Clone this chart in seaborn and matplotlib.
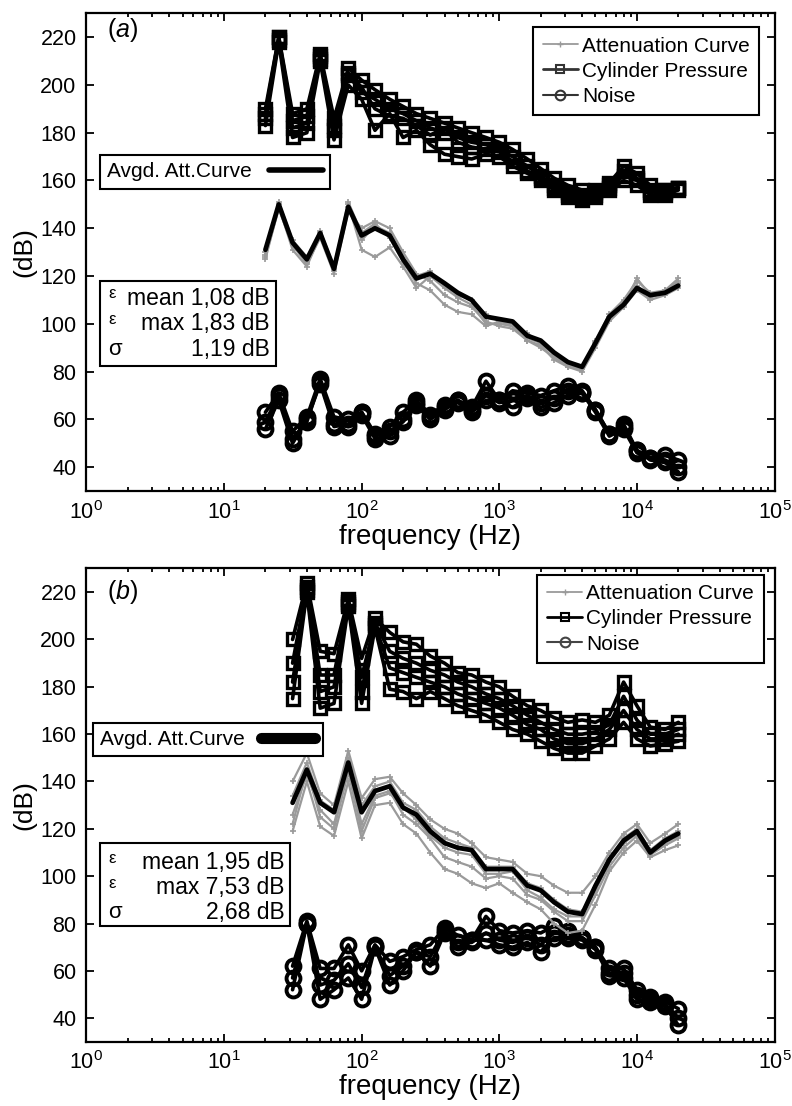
import numpy as np
import pandas as pd
import seaborn as sns
from matplotlib import pyplot as plt
from matplotlib.lines import Line2D
from matplotlib.patches import Rectangle
from matplotlib.ticker import LogLocator, NullFormatter

# third-octave band centres (Hz)
freq_a = [20, 25, 31.5, 40, 50, 63, 80, 100, 125, 160, 200, 250, 315, 400, 500, 630,
          800, 1000, 1250, 1600, 2000, 2500, 3150, 4000, 5000, 6300, 8000, 10000,
          12500, 16000, 20000]
freq_b = freq_a[2:]

# panel (a)
avg_a = [131, 150, 134, 127, 138, 123, 149, 137, 140, 137, 127, 119, 121, 117, 113, 110,
         103, 102, 101, 95, 93, 88, 84, 82, 92, 103, 108, 115, 112, 113, 116]
att_a = [
    [128, 148, 133, 125, 136, 121, 147, 140, 143, 140, 130, 121, 118, 112, 109, 107,
     101, 99, 98, 93, 90, 86, 82, 81, 93, 104, 110, 118, 113, 114, 118],
    [127, 149, 131, 124, 137, 122, 150, 131, 128, 132, 124, 115, 120, 115, 111, 108,
     100, 100, 99, 93, 91, 85, 82, 80, 90, 101, 107, 114, 110, 112, 115],
    [129, 151, 135, 128, 139, 124, 151, 138, 142, 136, 126, 117, 114, 108, 105, 104,
     99, 101, 100, 96, 92, 87, 83, 81, 91, 102, 109, 116, 111, 113, 117],
    [130, 150, 134, 126, 138, 123, 149, 135, 141, 138, 128, 120, 122, 116, 112, 110,
     104, 101, 99, 94, 92, 87, 83, 82, 92, 103, 108, 119, 112, 114, 119],
]
cyl_a = [
    [190, 220, 188, 190, 213, 186, 207, 202, 198, 194, 191, 188, 186, 184, 182, 180,
     178, 176, 173, 169, 165, 161, 158, 156, 156, 159, 166, 163, 158, 156, 157],
    [186, 219, 182, 184, 211, 181, 204, 197, 194, 190, 188, 185, 182, 180, 178, 176,
     175, 173, 170, 166, 162, 158, 155, 154, 155, 158, 164, 161, 156, 155, 157],
    [183, 218, 178, 180, 210, 177, 200, 194, 181, 188, 178, 181, 175, 171, 170, 169,
     171, 170, 166, 163, 160, 156, 153, 152, 153, 156, 160, 158, 154, 154, 156],
    [188, 220, 185, 187, 212, 183, 205, 199, 190, 187, 186, 183, 179, 182, 176, 174,
     173, 172, 168, 164, 161, 157, 154, 153, 154, 157, 162, 160, 155, 156, 157],
]
noise_a = [
    [63, 71, 55, 61, 77, 61, 60, 63, 54, 57, 63, 68, 62, 66, 68, 65,
     76, 68, 72, 71, 70, 72, 74, 72, 64, 54, 58, 47, 44, 45, 43],
    [59, 70, 52, 59, 76, 58, 57, 62, 52, 53, 60, 67, 61, 65, 67, 64,
     70, 67, 68, 70, 67, 69, 72, 71, 63, 53, 56, 46, 44, 43, 40],
    [56, 68, 50, 60, 75, 57, 58, 63, 53, 55, 59, 66, 60, 64, 68, 63,
     68, 68, 65, 69, 65, 67, 70, 71, 64, 54, 57, 47, 43, 42, 38],
]
stats_a = ["mean 1,08 dB", "max 1,83 dB", "1,19 dB"]

# panel (b)
avg_b = [131, 145, 131, 127, 148, 127, 136, 138, 129, 126, 119, 114, 112, 111, 103,
         103, 103, 96, 94, 89, 85, 84, 96, 107, 115, 119, 110, 115, 118]
att_b = [
    [140, 152, 135, 130, 153, 133, 141, 142, 135, 130, 124, 120, 118, 114, 108,
     107, 106, 101, 100, 96, 93, 93, 100, 110, 118, 122, 114, 118, 122],
    [119, 140, 121, 117, 140, 116, 130, 131, 122, 118, 110, 103, 101, 97, 95,
     97, 93, 89, 86, 80, 76, 77, 88, 102, 110, 115, 108, 111, 113],
    [126, 143, 128, 122, 146, 122, 134, 136, 126, 122, 116, 108, 106, 104, 99,
     100, 99, 92, 90, 85, 81, 81, 92, 104, 112, 117, 109, 113, 116],
    [134, 148, 132, 128, 150, 130, 138, 140, 131, 128, 121, 116, 114, 112, 104,
     104, 104, 97, 95, 90, 86, 85, 95, 107, 116, 120, 111, 116, 119],
    [122, 145, 125, 120, 144, 119, 133, 135, 129, 124, 117, 112, 110, 109, 101,
     101, 102, 94, 91, 86, 83, 83, 94, 106, 114, 118, 110, 114, 117],
]
cyl_b = [
    [200, 224, 195, 194, 217, 192, 209, 203, 199, 198, 193, 190, 186, 185, 182,
     180, 176, 172, 170, 167, 165, 166, 165, 168, 182, 172, 163, 162, 165],
    [190, 222, 185, 185, 216, 184, 207, 195, 192, 190, 187, 185, 182, 180, 177,
     175, 172, 168, 165, 162, 160, 160, 161, 164, 176, 166, 160, 160, 162],
    [182, 221, 178, 180, 215, 178, 206, 188, 186, 184, 182, 180, 177, 175, 173,
     171, 168, 164, 162, 158, 156, 156, 158, 162, 170, 162, 158, 158, 160],
    [175, 220, 171, 173, 214, 173, 205, 179, 178, 175, 178, 175, 172, 170, 168,
     165, 162, 160, 157, 154, 152, 152, 155, 158, 165, 158, 155, 156, 157],
]
noise_b = [
    [62, 81, 61, 61, 71, 60, 71, 64, 66, 69, 71, 78, 75, 73, 83,
     77, 76, 77, 76, 79, 77, 74, 70, 61, 61, 52, 49, 47, 44],
    [57, 80, 54, 56, 63, 53, 70, 58, 62, 68, 66, 77, 72, 72, 76,
     73, 72, 74, 71, 76, 75, 74, 70, 59, 59, 50, 48, 46, 40],
    [52, 80, 48, 52, 57, 48, 70, 54, 60, 68, 62, 76, 70, 73, 73,
     71, 70, 72, 68, 74, 74, 73, 69, 58, 57, 48, 47, 45, 37],
]
stats_b = ["mean 1,95 dB", "max 7,53 dB", "2,68 dB"]

GRAY = "#9a9a9a"


def to_long(freqs, curves):
    rows = []
    for run, vals in enumerate(curves):
        for f, v in zip(freqs, vals):
            rows.append({"freq": f, "db": v, "run": run})
    return pd.DataFrame(rows)


def draw_panel(ax, freqs, att, cyl, noise, avg, tag, stats, cfg):
    ax.set_xscale("log")
    line_col = cfg["line_color"]

    sns.lineplot(data=to_long(freqs, cyl), x="freq", y="db", units="run",
                 estimator=None, sort=False, ax=ax, color="black", linewidth=2.6,
                 marker="s", markersize=8.5, markerfacecolor="none",
                 markeredgecolor="black", markeredgewidth=2.4, legend=False)
    sns.lineplot(data=to_long(freqs, noise), x="freq", y="db", units="run",
                 estimator=None, sort=False, ax=ax, color="black", linewidth=2.6,
                 marker="o", markersize=10, markerfacecolor="none",
                 markeredgecolor="black", markeredgewidth=2.8, legend=False)
    sns.lineplot(data=to_long(freqs, att), x="freq", y="db", units="run",
                 estimator=None, sort=False, ax=ax, color=GRAY, linewidth=1.6,
                 marker="+", markersize=4, markeredgecolor=GRAY,
                 markeredgewidth=1.2, legend=False)
    sns.lineplot(x=freqs, y=avg, ax=ax, color="black", linewidth=3.4,
                 estimator=None, sort=False, legend=False)

    ax.set_xlim(1, 1e5)
    ax.set_ylim(30, 230)
    ax.set_yticks(np.arange(40, 221, 20))
    ax.xaxis.set_major_locator(LogLocator(base=10, numticks=10))
    ax.xaxis.set_minor_locator(LogLocator(base=10, subs=np.arange(2, 10), numticks=20))
    ax.xaxis.set_minor_formatter(NullFormatter())
    ax.tick_params(which="both", direction="in", top=True, right=True,
                   width=1.3, labelsize=15.5, colors="black")
    ax.tick_params(which="major", length=6, pad=7)
    ax.tick_params(which="minor", length=3)
    for s in ax.spines.values():
        s.set_linewidth(1.6)
        s.set_color("black")
    ax.set_xlabel("frequency (Hz)", fontsize=20, labelpad=0)
    ax.set_ylabel("(dB)", fontsize=19, labelpad=3)

    ax.text(0.03, cfg["tag_y"], "(" + r"$\mathit{" + tag + "}$" + ")",
            transform=ax.transAxes, fontsize=18, va="center", ha="left")

    handles = [
        Line2D([], [], color=GRAY, linewidth=1.3, marker="+", markersize=4),
        Line2D([], [], color=line_col, linewidth=2, marker="s", markersize=6,
               markerfacecolor="none", markeredgewidth=1.5),
        Line2D([], [], color=line_col if tag == "a" else "#444444", linewidth=1.5,
               marker="o", markersize=7, markerfacecolor="none", markeredgewidth=1.5),
    ]
    leg = ax.legend(handles, ["Attenuation Curve", "Cylinder Pressure", "Noise"],
                    loc="upper right", bbox_to_anchor=cfg["leg_anchor"],
                    frameon=True, fancybox=False, edgecolor="black", framealpha=1,
                    fontsize=15, handlelength=1.7, handletextpad=0.2,
                    borderpad=0.45, labelspacing=0.3, borderaxespad=0)
    leg.get_frame().set_linewidth(1.5)
    ax.add_artist(leg)

    avg_leg = ax.legend([Line2D([], [], color="black", linewidth=cfg["avg_lw"])],
                        ["Avgd. Att.Curve"], loc="upper left",
                        bbox_to_anchor=cfg["avg_anchor"], markerfirst=False,
                        frameon=True, fancybox=False, edgecolor="black",
                        framealpha=1, fontsize=15, handlelength=2.6,
                        handletextpad=0.8, borderpad=0.35, borderaxespad=0)
    avg_leg.get_frame().set_linewidth(1.5)

    x0, y0, w, h = cfg["stats_box"]
    ax.add_patch(Rectangle((x0, y0), w, h, transform=ax.transAxes, facecolor="white",
                           edgecolor="black", linewidth=1.5, zorder=5))
    symbols = ["\u03b5", "\u03b5", "\u03c3"]
    top_row = cfg["row_top"]
    for i, (sym, txt) in enumerate(zip(symbols, stats)):
        yy = y0 + h * (top_row - 0.30 * i)
        small = sym == "\u03b5"
        ax.text(x0 + 0.012, yy + (0.01 if small else 0), sym, transform=ax.transAxes,
                fontsize=12 if small else 16, va="center", ha="left", zorder=6)
        ax.text(x0 + w - 0.008, yy, txt, transform=ax.transAxes, fontsize=16.5,
                va="center", ha="right", zorder=6)


sns.set_style("ticks")
plt.rcParams["font.family"] = ["Liberation Sans", "DejaVu Sans"]
plt.rcParams["mathtext.fontset"] = "custom"
plt.rcParams["mathtext.rm"] = "Liberation Sans"
plt.rcParams["mathtext.it"] = "Liberation Sans:italic"
plt.rcParams["text.color"] = "black"
plt.rcParams["axes.labelcolor"] = "black"

fig = plt.figure(figsize=(7.92, 11.06), dpi=100)
ax_a = fig.add_axes([0.109, 0.556, 0.869, 0.432])
ax_b = fig.add_axes([0.109, 0.058, 0.869, 0.428])

draw_panel(ax_a, freq_a, att_a, cyl_a, noise_a, avg_a, "a", stats_a, {
    "line_color": "#333333",
    "tag_y": 0.964,
    "leg_anchor": (0.978, 0.971),
    "avg_anchor": (0.02, 0.703),
    "avg_lw": 4,
    "stats_box": (0.02, 0.261, 0.255, 0.178),
    "row_top": 0.80,
})
draw_panel(ax_b, freq_b, att_b, cyl_b, noise_b, avg_b, "b", stats_b, {
    "line_color": "black",
    "tag_y": 0.95,
    "leg_anchor": (0.984, 0.987),
    "avg_anchor": (0.009, 0.674),
    "avg_lw": 8,
    "stats_box": (0.02, 0.245, 0.276, 0.175),
    "row_top": 0.76,
})

fig.savefig("out.png", dpi=100)
